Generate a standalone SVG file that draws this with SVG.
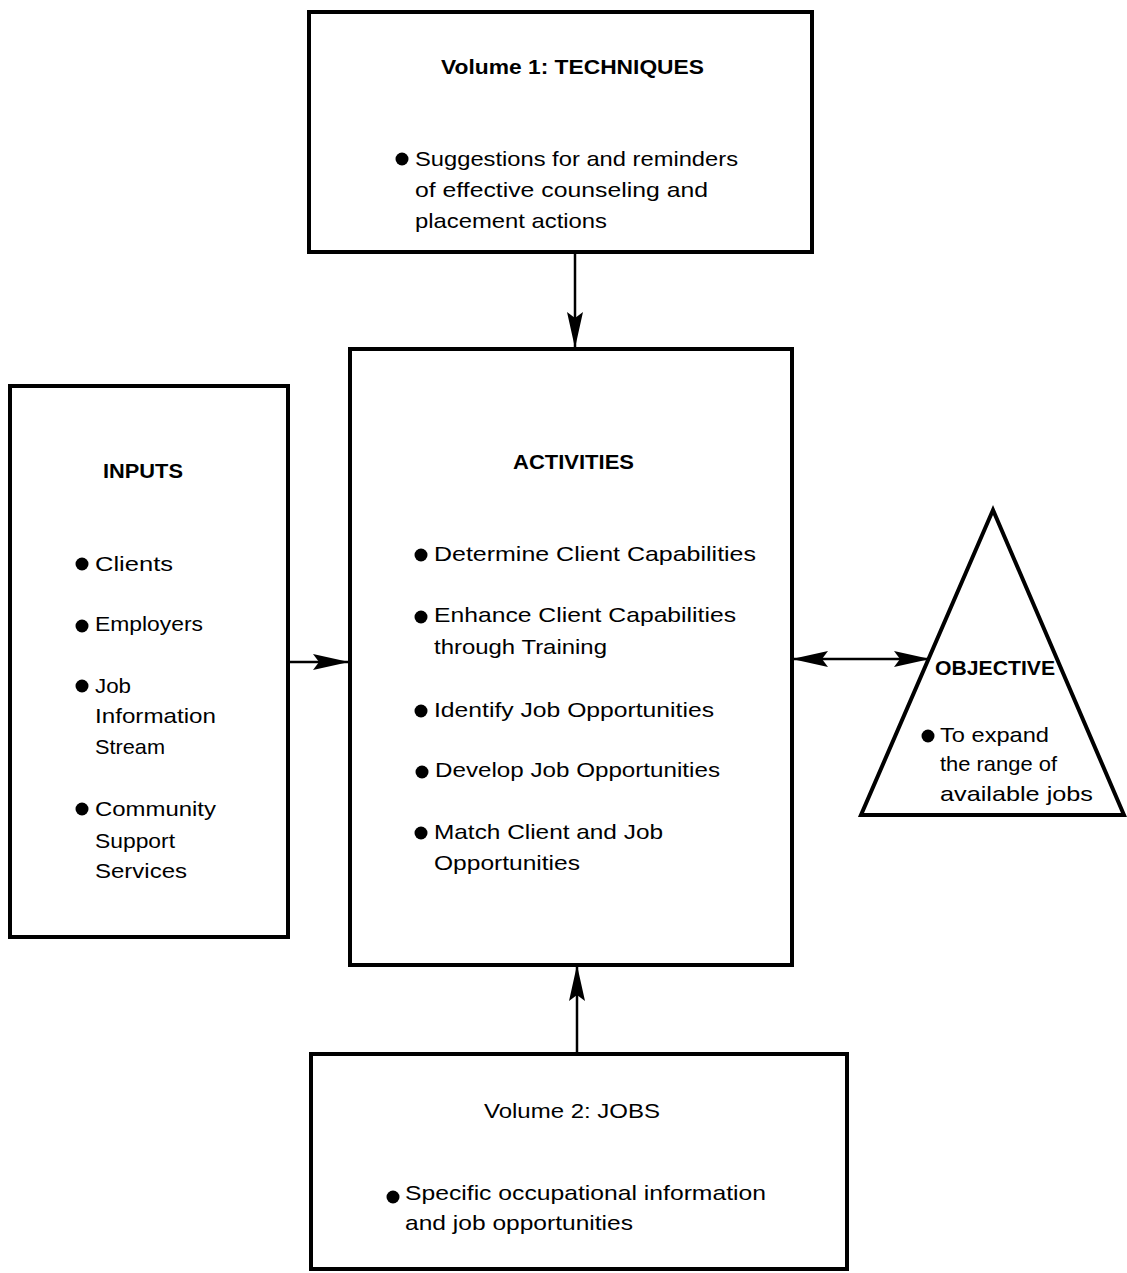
<svg xmlns="http://www.w3.org/2000/svg" width="1127" height="1273" viewBox="0 0 1127 1273">
<style>
.box{fill:#fff;stroke:#000;stroke-width:4}
.t{font-family:"Liberation Sans",Arial,sans-serif;font-size:21px;fill:#000}
.h{font-family:"Liberation Sans",Arial,sans-serif;font-size:20px;font-weight:bold;fill:#000}
.c{stroke:#000;stroke-width:2.5;fill:none}
.b{fill:#000}
</style>
<defs>
<marker id="ah" viewBox="0 0 36 16" refX="35" refY="8" markerWidth="36" markerHeight="16" markerUnits="userSpaceOnUse" orient="auto-start-reverse">
<path d="M0,0 L36,8 L0,16 L6,8 z" fill="#000"/>
</marker>
</defs>
<rect width="1127" height="1273" fill="#fff"/>

<g id="connectors">
<line class="c" x1="575" y1="253" x2="575" y2="347" marker-end="url(#ah)"/>
<line class="c" x1="289" y1="662" x2="348" y2="662" marker-end="url(#ah)"/>
<line class="c" x1="793" y1="659" x2="929" y2="659" marker-start="url(#ah)" marker-end="url(#ah)"/>
<line class="c" x1="577" y1="1053" x2="577" y2="966" marker-end="url(#ah)"/>
</g>

<g id="techniques">
<rect class="box" x="309" y="12" width="503" height="240"/>
<text class="h" x="441" y="74" textLength="263" lengthAdjust="spacingAndGlyphs">Volume 1:  TECHNIQUES</text>
<circle class="b" cx="402" cy="159" r="6.5"/>
<text class="t" x="415" y="166" textLength="323" lengthAdjust="spacingAndGlyphs">Suggestions for and reminders</text>
<text class="t" x="415" y="197" textLength="293" lengthAdjust="spacingAndGlyphs">of effective counseling and</text>
<text class="t" x="415" y="228" textLength="192" lengthAdjust="spacingAndGlyphs">placement actions</text>
</g>

<g id="inputs">
<rect class="box" x="10" y="386" width="278" height="551"/>
<text class="h" x="103" y="478" textLength="80" lengthAdjust="spacingAndGlyphs">INPUTS</text>
<circle class="b" cx="82" cy="564" r="6.5"/>
<text class="t" x="95" y="571" textLength="78" lengthAdjust="spacingAndGlyphs">Clients</text>
<circle class="b" cx="82" cy="626" r="6.5"/>
<text class="t" x="95" y="631" textLength="108" lengthAdjust="spacingAndGlyphs">Employers</text>
<circle class="b" cx="82" cy="686" r="6.5"/>
<text class="t" x="95" y="693" textLength="36" lengthAdjust="spacingAndGlyphs">Job</text>
<text class="t" x="95" y="723" textLength="121" lengthAdjust="spacingAndGlyphs">Information</text>
<text class="t" x="95" y="754" textLength="70" lengthAdjust="spacingAndGlyphs">Stream</text>
<circle class="b" cx="82" cy="809" r="6.5"/>
<text class="t" x="95" y="816" textLength="121" lengthAdjust="spacingAndGlyphs">Community</text>
<text class="t" x="95" y="848" textLength="80" lengthAdjust="spacingAndGlyphs">Support</text>
<text class="t" x="95" y="878" textLength="92" lengthAdjust="spacingAndGlyphs">Services</text>
</g>

<g id="activities">
<rect class="box" x="350" y="349" width="442" height="616"/>
<text class="h" x="513" y="469" textLength="121" lengthAdjust="spacingAndGlyphs">ACTIVITIES</text>
<circle class="b" cx="421" cy="555" r="6.5"/>
<text class="t" x="434" y="561" textLength="322" lengthAdjust="spacingAndGlyphs">Determine Client Capabilities</text>
<circle class="b" cx="421" cy="617" r="6.5"/>
<text class="t" x="434" y="622" textLength="302" lengthAdjust="spacingAndGlyphs">Enhance Client Capabilities</text>
<text class="t" x="434" y="654" textLength="173" lengthAdjust="spacingAndGlyphs">through Training</text>
<circle class="b" cx="421" cy="711" r="6.5"/>
<text class="t" x="434" y="717" textLength="280" lengthAdjust="spacingAndGlyphs">Identify Job Opportunities</text>
<circle class="b" cx="422" cy="772" r="6.5"/>
<text class="t" x="435" y="777" textLength="285" lengthAdjust="spacingAndGlyphs">Develop Job Opportunities</text>
<circle class="b" cx="421" cy="833" r="6.5"/>
<text class="t" x="434" y="839" textLength="229" lengthAdjust="spacingAndGlyphs">Match Client and Job</text>
<text class="t" x="434" y="870" textLength="146" lengthAdjust="spacingAndGlyphs">Opportunities</text>
</g>

<g id="objective">
<polygon points="993,510 861,815 1124,815" fill="#fff" stroke="#000" stroke-width="4" stroke-linejoin="miter"/>
<text class="h" x="935" y="675" textLength="120" lengthAdjust="spacingAndGlyphs">OBJECTIVE</text>
<circle class="b" cx="928" cy="736" r="6.5"/>
<text class="t" x="940" y="742" textLength="109" lengthAdjust="spacingAndGlyphs">To expand</text>
<text class="t" x="940" y="771" textLength="117" lengthAdjust="spacingAndGlyphs">the range of</text>
<text class="t" x="940" y="801" textLength="153" lengthAdjust="spacingAndGlyphs">available jobs</text>
</g>

<g id="jobs">
<rect class="box" x="311" y="1054" width="536" height="215"/>
<text class="t" x="484" y="1118" textLength="176" lengthAdjust="spacingAndGlyphs">Volume 2:  JOBS</text>
<circle class="b" cx="393" cy="1197" r="6.5"/>
<text class="t" x="405" y="1200" textLength="361" lengthAdjust="spacingAndGlyphs">Specific occupational information</text>
<text class="t" x="405" y="1230" textLength="228" lengthAdjust="spacingAndGlyphs">and job opportunities</text>
</g>
</svg>
